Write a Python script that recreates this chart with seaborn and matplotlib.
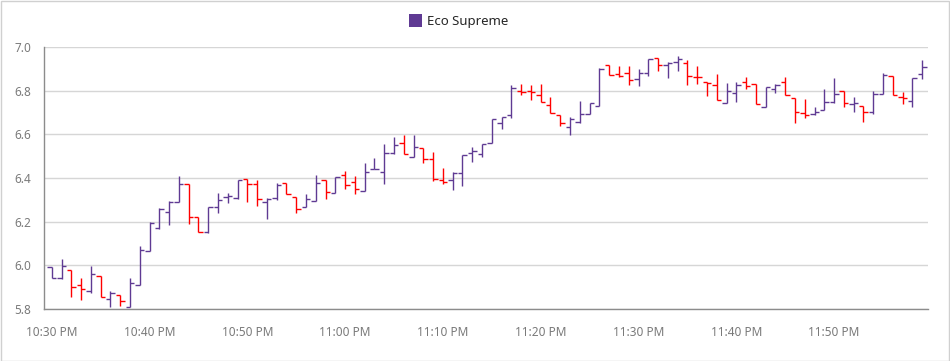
import numpy as np
import pandas as pd
import matplotlib
matplotlib.use("Agg")
import matplotlib.pyplot as plt
import matplotlib.dates as mdates
from matplotlib.patches import Rectangle
import seaborn as sns

# ---- data -------------------------------------------------------------
times = pd.date_range("2024-01-01 22:30", periods=90, freq="1min")
opens = [5.991, 5.944, 5.979, 5.911, 5.884, 5.951, 5.844, 5.864, 5.811, 5.910,
         6.066, 6.169, 6.243, 6.292, 6.371, 6.220, 6.151, 6.269, 6.312, 6.307,
         6.394, 6.371, 6.289, 6.307, 6.379, 6.311, 6.266, 6.296, 6.391, 6.330,
         6.414, 6.383, 6.342, 6.440, 6.429, 6.516, 6.559, 6.495, 6.536, 6.486,
         6.391, 6.391, 6.421, 6.513, 6.508, 6.559, 6.650, 6.689, 6.798, 6.800,
         6.780, 6.734, 6.689, 6.635, 6.655, 6.693, 6.730, 6.918, 6.876, 6.880,
         6.852, 6.880, 6.948, 6.918, 6.933, 6.925, 6.864, 6.841, 6.826, 6.745,
         6.791, 6.841, 6.831, 6.724, 6.806, 6.841, 6.765, 6.699, 6.693, 6.712,
         6.747, 6.799, 6.739, 6.730, 6.701, 6.785, 6.869, 6.770, 6.753, 6.875]
highs = [5.991, 6.028, 5.979, 5.940, 5.997, 5.951, 5.884, 5.864, 5.940, 6.089,
         6.200, 6.261, 6.295, 6.409, 6.371, 6.220, 6.269, 6.333, 6.330, 6.391,
         6.394, 6.391, 6.307, 6.376, 6.379, 6.311, 6.327, 6.414, 6.391, 6.406,
         6.434, 6.409, 6.470, 6.490, 6.556, 6.589, 6.597, 6.597, 6.536, 6.521,
         6.444, 6.429, 6.505, 6.541, 6.556, 6.669, 6.681, 6.826, 6.829, 6.826,
         6.829, 6.773, 6.689, 6.681, 6.754, 6.742, 6.905, 6.918, 6.913, 6.913,
         6.898, 6.944, 6.948, 6.933, 6.959, 6.941, 6.913, 6.841, 6.876, 6.837,
         6.841, 6.861, 6.831, 6.815, 6.831, 6.861, 6.765, 6.760, 6.724, 6.806,
         6.857, 6.799, 6.773, 6.730, 6.799, 6.880, 6.869, 6.796, 6.857, 6.941]
lows = [5.940, 5.936, 5.856, 5.841, 5.872, 5.853, 5.808, 5.814, 5.811, 5.910,
        6.066, 6.166, 6.185, 6.292, 6.189, 6.151, 6.147, 6.241, 6.284, 6.302,
        6.289, 6.272, 6.211, 6.299, 6.327, 6.241, 6.266, 6.296, 6.302, 6.330,
        6.348, 6.327, 6.342, 6.440, 6.373, 6.508, 6.508, 6.495, 6.470, 6.388,
        6.373, 6.345, 6.363, 6.475, 6.495, 6.559, 6.623, 6.673, 6.780, 6.757,
        6.747, 6.696, 6.638, 6.597, 6.654, 6.692, 6.730, 6.872, 6.861, 6.826,
        6.821, 6.867, 6.892, 6.857, 6.892, 6.826, 6.831, 6.776, 6.757, 6.742,
        6.750, 6.806, 6.739, 6.724, 6.791, 6.780, 6.650, 6.673, 6.689, 6.712,
        6.745, 6.724, 6.704, 6.655, 6.693, 6.783, 6.780, 6.739, 6.727, 6.852]
closes = [5.944, 5.998, 5.899, 5.892, 5.960, 5.853, 5.875, 5.835, 5.921, 6.070,
          6.192, 6.256, 6.292, 6.371, 6.223, 6.151, 6.266, 6.299, 6.318, 6.391,
          6.371, 6.302, 6.305, 6.368, 6.327, 6.257, 6.302, 6.376, 6.334, 6.406,
          6.368, 6.348, 6.429, 6.440, 6.516, 6.551, 6.508, 6.544, 6.486, 6.394,
          6.383, 6.424, 6.505, 6.525, 6.556, 6.669, 6.681, 6.811, 6.796, 6.793,
          6.747, 6.696, 6.650, 6.669, 6.693, 6.742, 6.898, 6.872, 6.867, 6.849,
          6.880, 6.944, 6.918, 6.928, 6.944, 6.867, 6.861, 6.837, 6.757, 6.800,
          6.826, 6.821, 6.739, 6.815, 6.826, 6.780, 6.704, 6.689, 6.704, 6.750,
          6.783, 6.742, 6.745, 6.701, 6.783, 6.872, 6.780, 6.765, 6.857, 6.910]
series_name = "Eco Supreme"
y_ticks = [5.8, 6.0, 6.2, 6.4, 6.6, 6.8, 7.0]

# ---- style ------------------------------------------------------------
UP = "#5f3a93"
DOWN = "#ff0000"
LABEL = "#7a7a7a"
AXIS = "#8c8c8c"
GRID = "#d6d6d6"

sns.set_theme(style="white")
plt.rcParams["font.family"] = ["Noto Sans", "DejaVu Sans"]

df = pd.DataFrame({"time": times, "open": opens, "high": highs,
                   "low": lows, "close": closes})
df["x"] = mdates.date2num(df["time"])
prev = df["close"].shift(1)
df["color"] = np.where(prev.notna() & (df["close"] < prev), DOWN, UP)

fig = plt.figure(figsize=(9.5, 3.61), dpi=100)
ax = fig.add_axes([44 / 950, 1 - 309 / 361, (928 - 44) / 950, (309 - 47) / 361])

half = 0.45 / 1440.0
lw = 1.0
ax.vlines(df["x"], df["low"], df["high"], colors=df["color"], linewidth=lw, zorder=3)
ax.hlines(df["open"], df["x"] - half, df["x"], colors=df["color"], linewidth=lw, zorder=3)
ax.hlines(df["close"], df["x"], df["x"] + half, colors=df["color"], linewidth=lw, zorder=3)

x0 = df["x"].iloc[0]
ax.set_xlim(x0 - 0.79 / 1440, x0 + 89.6 / 1440)
ax.set_ylim(5.8, 7.0)
ax.set_yticks(y_ticks)
ax.set_yticklabels([f"{v:.1f}" for v in y_ticks])
ax.xaxis.set_major_locator(mdates.MinuteLocator(byminute=range(0, 60, 10)))
ax.xaxis.set_major_formatter(mdates.DateFormatter("%-I:%M %p"))

ax.grid(axis="y", color=GRID, linewidth=1.0, zorder=0)
ax.grid(axis="x", visible=False)
sns.despine(ax=ax, top=True, right=True)
for side in ("left", "bottom"):
    ax.spines[side].set_color(AXIS)
    ax.spines[side].set_linewidth(1.0)
ax.tick_params(axis="both", colors=AXIS, labelcolor=LABEL, labelsize=8.5,
               length=5, width=1, direction="out")
ax.tick_params(axis="x", pad=7)
ax.tick_params(axis="y", pad=4)

# legend
handle = Rectangle((0, 0), 1, 1, facecolor=UP, edgecolor="none")
fig.legend([handle], [series_name], loc="center", bbox_to_anchor=(458.5 / 950, 1 - 21 / 361),
           frameon=False, fontsize=9.5, handlelength=1.05, handleheight=1.1,
           handletextpad=0.35, borderaxespad=0, borderpad=0)

# outer border
fig.patches.append(Rectangle((0.5 / 950, 0.5 / 361), 948.5 / 950, 359.5 / 361,
                             transform=fig.transFigure, fill=False,
                             edgecolor="#d0d0d0", linewidth=1.0))

fig.savefig("out.png", dpi=100)
